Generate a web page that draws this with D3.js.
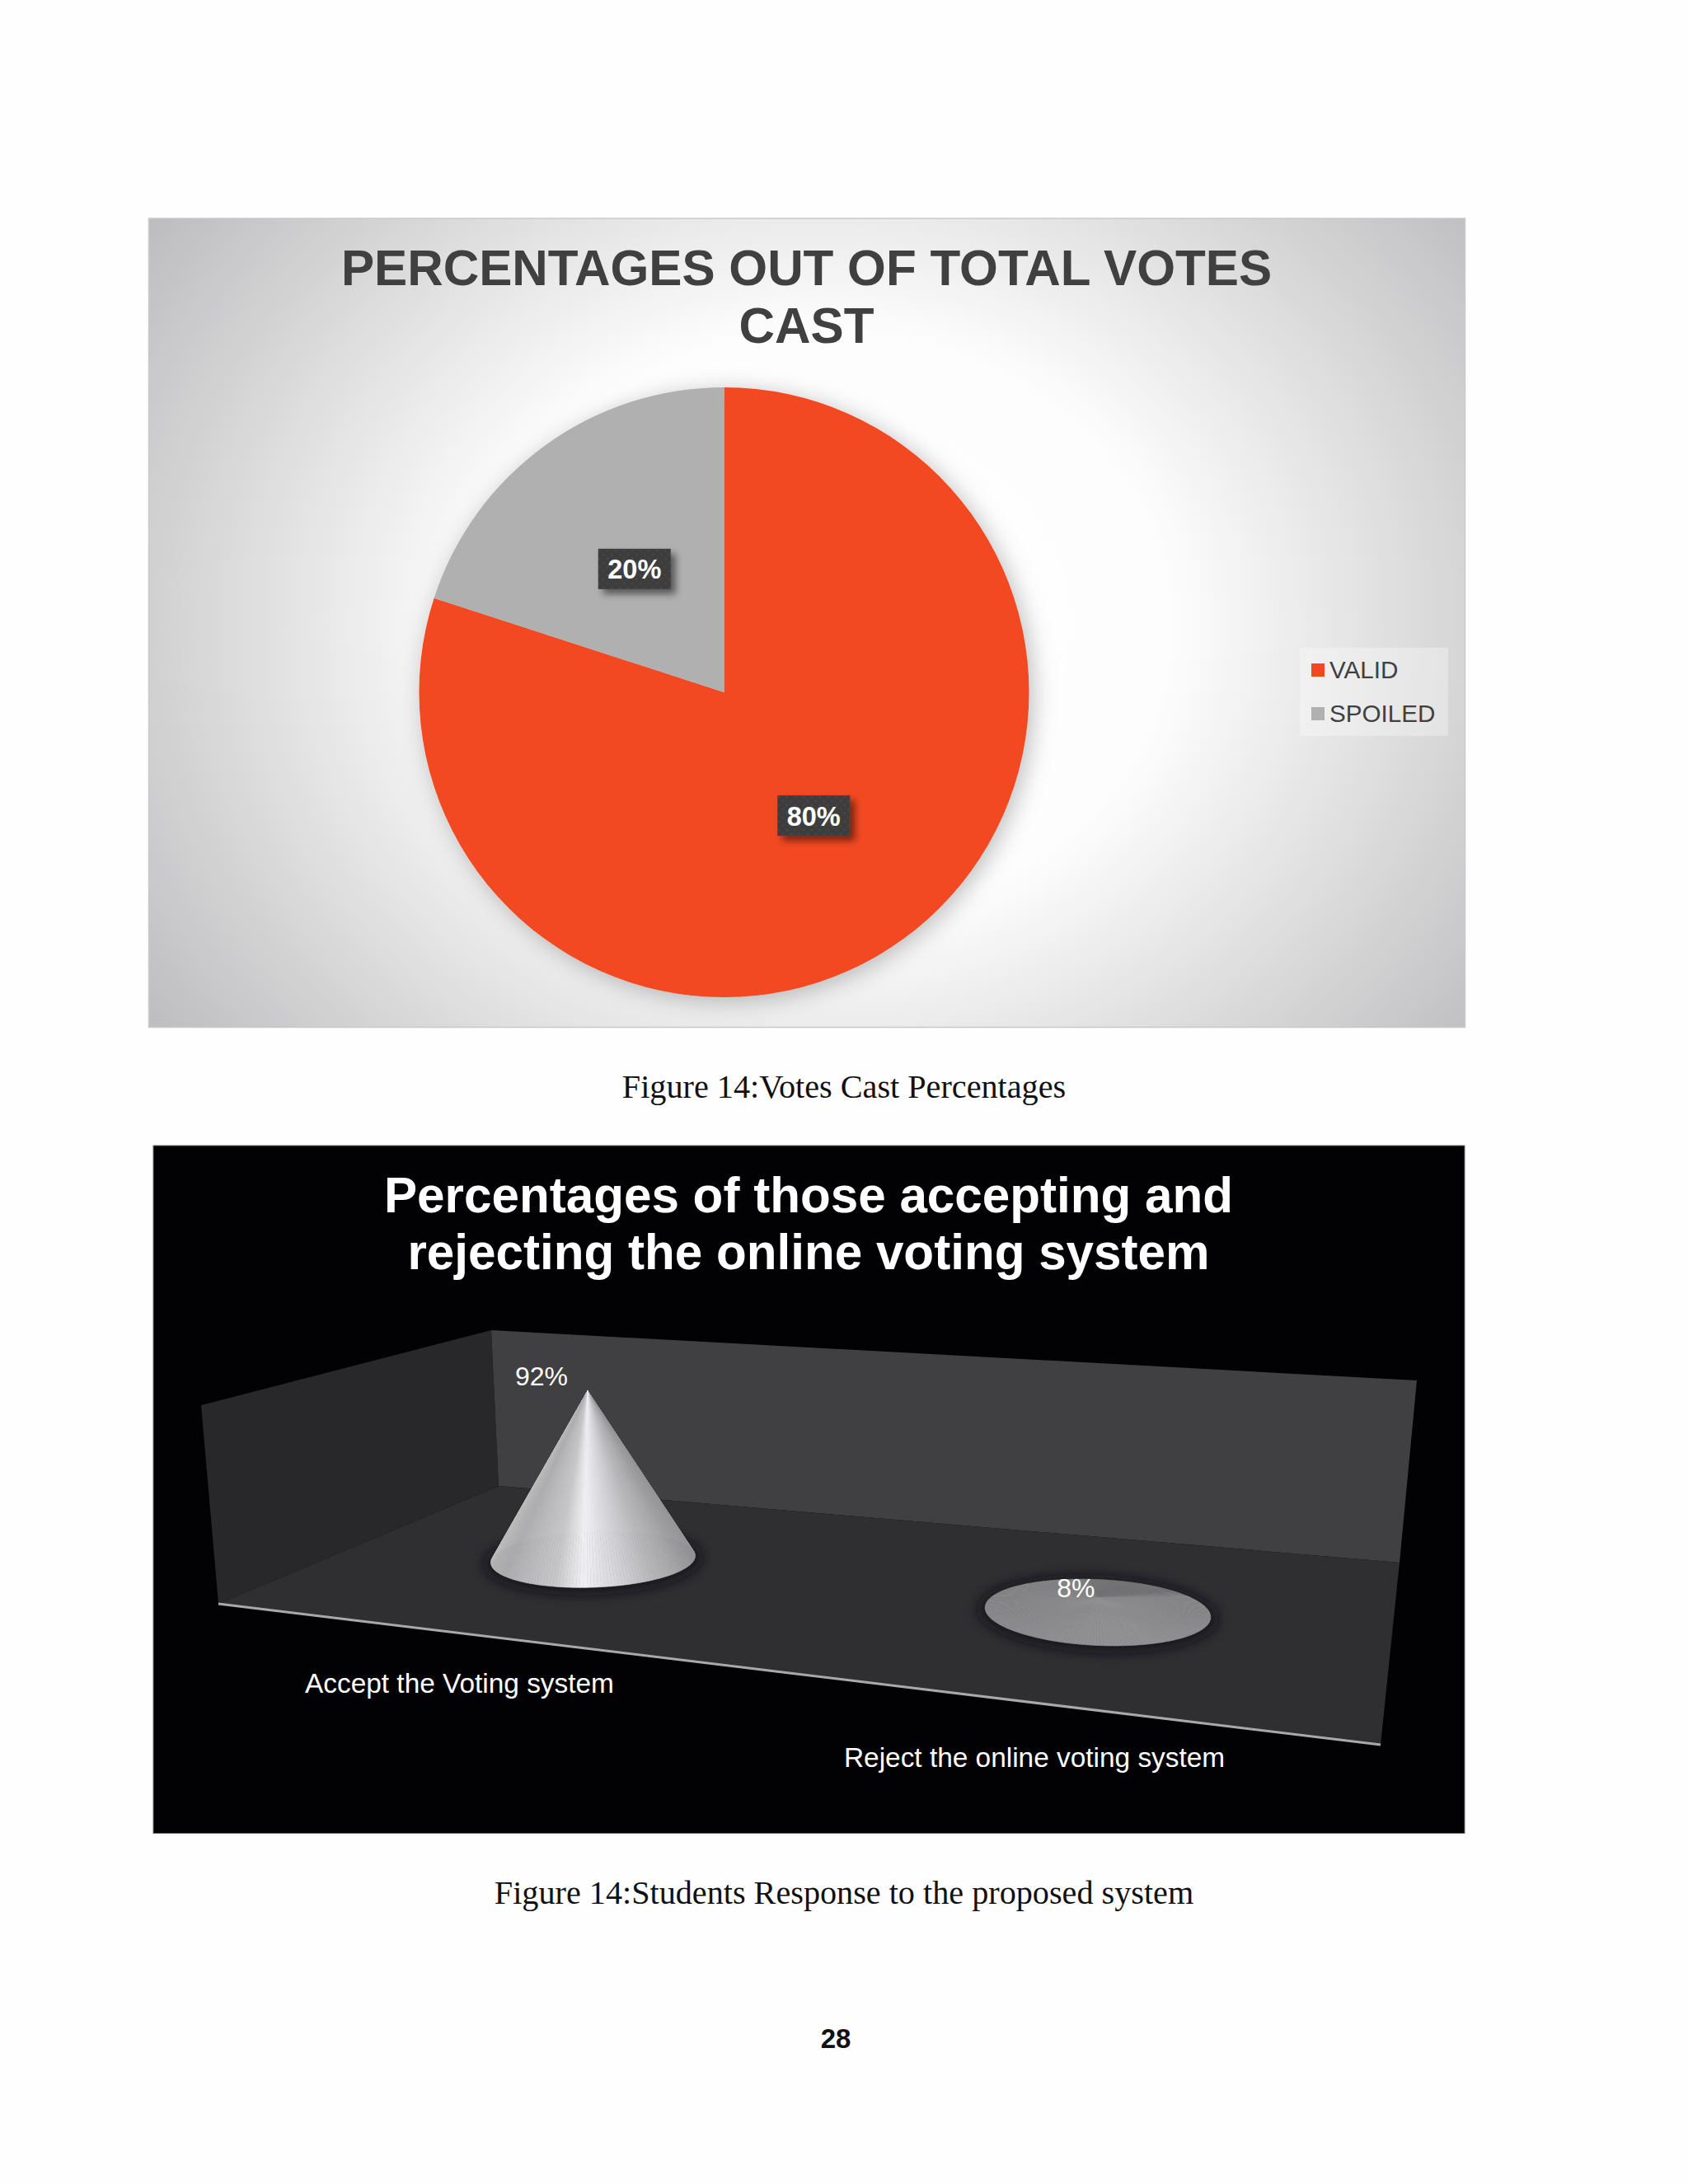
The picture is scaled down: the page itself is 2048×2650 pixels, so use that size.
<!DOCTYPE html>
<html>
<head>
<meta charset="utf-8">
<script src="https://cdn.jsdelivr.net/npm/d3@7"></script>
<style>
  html, body { margin: 0; padding: 0; background: #fefefe; }
  svg { display: block; }
  text { font-family: "Liberation Sans", Arial, sans-serif; }
  .caption { font-family: "Liberation Serif", "Times New Roman", serif; font-size: 40.2px; fill: #111; }
</style>
</head>
<body>
<svg id="page" width="2048" height="2650"></svg>
<script>
// Pie chart data
var voteLabels = ['VALID', 'SPOILED']
var voteValues = [80, 20]
var voteColors = ['#f24822', '#b0b0b1']
var voteTitle = ['PERCENTAGES OUT OF TOTAL VOTES', 'CAST']

// Cone chart data
var responseLabels = ['Accept the Voting system', 'Reject the online voting system']
var responseValues = [92, 8]
var responseTitle = ['Percentages of those accepting and', 'rejecting the online voting system']

var svg = d3.select('#page')
var defs = svg.append('defs')

// ## Shared defs
var panelFill = defs.append('radialGradient').attr('id', 'panelFill')
  .attr('gradientUnits', 'userSpaceOnUse')
  .attr('gradientTransform', 'translate(1000,760) scale(1000,850)')
  .attr('cx', 0).attr('cy', 0).attr('r', 1)
panelFill.selectAll('stop')
  .data([[0, '#ffffff'], [0.42, '#fdfdfd'], [0.7, '#dedede'], [1, '#bdbcbf']])
  .enter().append('stop')
  .attr('offset', function (d) { return d[0] })
  .attr('stop-color', function (d) { return d[1] })

function shadow(id, dx, dy, blur, opacity) {
  defs.append('filter').attr('id', id)
    .attr('x', '-30%').attr('y', '-30%').attr('width', '160%').attr('height', '160%')
    .append('feDropShadow')
    .attr('dx', dx).attr('dy', dy).attr('stdDeviation', blur)
    .attr('flood-color', '#000').attr('flood-opacity', opacity)
}
shadow('pieShadow', 5, 5, 14, 0.25)
shadow('labelShadow', 6, 6, 4, 0.5)

defs.append('filter').attr('id', 'soft')
  .attr('x', '-30%').attr('y', '-60%').attr('width', '160%').attr('height', '220%')
  .append('feGaussianBlur').attr('stdDeviation', 7)

var dots = defs.append('pattern').attr('id', 'dots')
  .attr('width', 10).attr('height', 10).attr('patternUnits', 'userSpaceOnUse')
dots.append('rect').attr('width', 10).attr('height', 10).attr('fill', '#3e3e3e')
dots.append('circle').attr('cx', 2.5).attr('cy', 2.5).attr('r', 1.1).attr('fill', '#4c4c4c')
dots.append('circle').attr('cx', 7.5).attr('cy', 7.5).attr('r', 1.1).attr('fill', '#4c4c4c')

// ## Pie chart
function drawPie(root) {
  var cx = 878.5, cy = 840, radius = 370

  root.append('rect')
    .attr('x', 180.5).attr('y', 265).attr('width', 1597).attr('height', 981.5)
    .attr('fill', 'url(#panelFill)')
    .attr('stroke', '#c9c9c9').attr('stroke-width', 1.5)

  root.selectAll('text.title')
    .data(voteTitle)
    .enter().append('text')
    .attr('class', 'title')
    .attr('x', 978.5)
    .attr('y', function (d, i) { return 346 + i * 70 })
    .attr('text-anchor', 'middle')
    .attr('font-size', 60.2).attr('font-weight', 'bold').attr('fill', '#404040')
    .text(function (d) { return d })

  var pie = d3.pie().sort(null)(voteValues)
  var arc = d3.arc().innerRadius(0).outerRadius(radius)
  var g = root.append('g').attr('transform', 'translate(' + cx + ',' + cy + ')')

  g.append('g').attr('filter', 'url(#pieShadow)')
    .selectAll('path')
    .data(pie)
    .enter().append('path')
    .attr('d', arc)
    .attr('fill', function (d, i) { return voteColors[i] })

  var labels = g.selectAll('g.label')
    .data(pie)
    .enter().append('g')
    .attr('class', 'label')
    .attr('transform', function (d) { return 'translate(' + arc.centroid(d) + ')' })
  labels.append('rect')
    .attr('x', -44).attr('y', -24.5).attr('width', 88).attr('height', 49)
    .attr('fill', 'url(#dots)').attr('filter', 'url(#labelShadow)')
  labels.append('text')
    .attr('text-anchor', 'middle').attr('y', 12)
    .attr('font-size', 32.5).attr('font-weight', 'bold').attr('fill', '#fff')
    .text(function (d) { return d.value + '%' })

  // legend
  var legend = root.append('g')
  legend.append('rect')
    .attr('x', 1577).attr('y', 786).attr('width', 180).attr('height', 107)
    .attr('fill', '#fff').attr('opacity', 0.32)
  var row = d3.scalePoint().domain(voteLabels).range([813, 866])
  legend.selectAll('rect.key')
    .data(voteLabels)
    .enter().append('rect')
    .attr('class', 'key')
    .attr('x', 1591).attr('width', 16).attr('height', 16)
    .attr('y', function (d) { return row(d) - 8 })
    .attr('fill', function (d, i) { return voteColors[i] })
  legend.selectAll('text')
    .data(voteLabels)
    .enter().append('text')
    .attr('x', 1613)
    .attr('y', function (d) { return row(d) + 9.5 })
    .attr('font-size', 29.6).attr('fill', '#404040')
    .text(function (d) { return d })
}

// ## Cone chart
// Grey of the cone surface by angle round its base: 0 right, 90 front, 180 left, 270 back.
var tallShade = d3.scaleLinear()
  .domain([0, 25, 55, 82, 96, 112, 150, 180, 360])
  .range(['#959597', '#9e9ea0', '#b8b8bb', '#dcdce0', '#f0f0f4', '#c8c8cb', '#aeaeb0', '#bcbcbc', '#959597'])
var flatShade = d3.scaleLinear()
  .domain([0, 60, 180, 255, 268, 310, 325, 360])
  .range(['#8c8b8d', '#939294', '#8c8b8d', '#858486', '#757477', '#767578', '#8a898b', '#8c8b8d'])

// Lean of the tip, in px per px of height, from the chart's perspective.
var coneLean = -0.032

function coneTip(x, y, height) {
  return [x + coneLean * height, y - height]
}

function drawCone(root, x, y, rx, ry, tilt, height, shade) {
  var cos = Math.cos(tilt), sin = Math.sin(tilt)
  function rim(deg) {
    var t = deg * Math.PI / 180
    var px = rx * Math.cos(t), py = ry * Math.sin(t)
    return [x + px * cos - py * sin, y + px * sin + py * cos]
  }
  var apex = coneTip(x, y, height)
  var step = 2
  var angles = d3.range(0, 360, step)
  // back of the surface first so the front covers it
  angles.sort(function (a, b) { return rim(a + 1)[1] - rim(b + 1)[1] })

  root.append('ellipse')
    .attr('rx', rx + 9).attr('ry', ry + 7)
    .attr('transform', 'translate(' + x + ',' + (y + 2) + ') rotate(' + tilt * 180 / Math.PI + ')')
    .attr('fill', '#111113').attr('opacity', 0.7).attr('filter', 'url(#soft)')

  var line = d3.line()
  root.append('g').selectAll('path')
    .data(angles)
    .enter().append('path')
    .attr('d', function (a) { return line([apex, rim(a), rim(a + step)]) + 'Z' })
    .attr('fill', function (a) { return shade(a + step / 2) })
    .attr('stroke', function (a) { return shade(a + step / 2) })
    .attr('stroke-width', 0.6)
}

function drawCones(root) {
  root.append('rect')
    .attr('x', 186).attr('y', 1390).attr('width', 1591).attr('height', 834.5)
    .attr('fill', '#020103')
    .attr('stroke', '#6a6a6a').attr('stroke-width', 1)

  root.selectAll('text.title')
    .data(responseTitle)
    .enter().append('text')
    .attr('class', 'title')
    .attr('x', 981)
    .attr('y', function (d, i) { return 1471 + i * 69 })
    .attr('text-anchor', 'middle')
    .attr('font-size', 60.2).attr('font-weight', 'bold').attr('fill', '#fff')
    .text(function (d) { return d })

  // room
  var poly = d3.line()
  var leftWall = [[244, 1705], [596, 1614], [605, 1803], [265, 1946]]
  var backWall = [[596, 1614], [1719, 1675], [1698, 1896], [605, 1803]]
  var floor = [[605, 1803], [1698, 1896], [1675, 2117], [265, 1946]]
  root.append('path').attr('d', poly(leftWall) + 'Z').attr('fill', '#28282a')
  root.append('path').attr('d', poly(backWall) + 'Z').attr('fill', '#403f42')
  root.append('path').attr('d', poly(floor) + 'Z').attr('fill', '#2f2e31')
  root.append('path').attr('d', poly([floor[3], floor[2]]))
    .attr('stroke', '#a9a9ab').attr('stroke-width', 3).attr('fill', 'none')

  // values to floor positions and heights
  var cx = d3.scalePoint().domain(responseLabels).range([719.5, 1332])
  var cy = d3.scalePoint().domain(responseLabels).range([1892, 1956.5])
  var rx = d3.scalePoint().domain(responseLabels).range([124, 137])
  var ry = d3.scalePoint().domain(responseLabels).range([34, 40])
  var tilt = d3.scalePoint().domain(responseLabels).range([-0.036, 0.046])
  var h = d3.scaleLinear().domain([0, 100]).range([0, 222])

  responseLabels.forEach(function (name, i) {
    drawCone(root, cx(name), cy(name), rx(name), ry(name), tilt(name), h(responseValues[i]),
      i === 0 ? tallShade : flatShade)
  })

  var labelShift = [[-24, -7], [-3, -1]]
  root.selectAll('text.value')
    .data(responseValues)
    .enter().append('text')
    .attr('class', 'value')
    .attr('text-anchor', 'end')
    .attr('x', function (d, i) {
      return coneTip(cx(responseLabels[i]), cy(responseLabels[i]), h(d))[0] + labelShift[i][0]
    })
    .attr('y', function (d, i) { return cy(responseLabels[i]) - h(d) + labelShift[i][1] })
    .attr('font-size', 32).attr('fill', '#fff')
    .text(function (d) { return d + '%' })

  var catX = d3.scalePoint().domain(responseLabels).range([370, 1024])
  var catY = d3.scalePoint().domain(responseLabels).range([2054, 2144])
  root.selectAll('text.category')
    .data(responseLabels)
    .enter().append('text')
    .attr('class', 'category')
    .attr('x', function (d) { return catX(d) })
    .attr('y', function (d) { return catY(d) })
    .attr('font-size', 33.4).attr('fill', '#fff')
    .text(function (d) { return d })
}

drawPie(svg.append('g'))
drawCones(svg.append('g'))

svg.append('text').attr('class', 'caption').attr('x', 1024).attr('y', 1331.5)
  .attr('text-anchor', 'middle').text('Figure 14:Votes Cast Percentages')
svg.append('text').attr('class', 'caption').attr('x', 1024).attr('y', 2310)
  .attr('text-anchor', 'middle').text('Figure 14:Students Response to the proposed system')
svg.append('text').attr('x', 1014).attr('y', 2485).attr('text-anchor', 'middle')
  .attr('font-size', 33).attr('font-weight', 'bold').attr('fill', '#111').text('28')
</script>
</body>
</html>
